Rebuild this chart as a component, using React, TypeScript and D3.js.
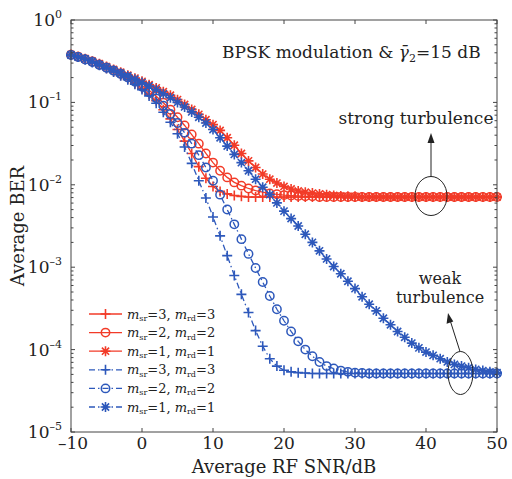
import React from 'react'
import * as d3 from 'd3'

// average RF SNR (dB), one marker per dB
const snrDb = [
  -10, -9, -8, -7, -6, -5, -4, -3, -2, -1,
  0, 1, 2, 3, 4, 5, 6, 7, 8, 9,
  10, 11, 12, 13, 14, 15, 16, 17, 18, 19,
  20, 21, 22, 23, 24, 25, 26, 27, 28, 29,
  30, 31, 32, 33, 34, 35, 36, 37, 38, 39,
  40, 41, 42, 43, 44, 45, 46, 47, 48, 49,
  50,
]

// strong turbulence (red)
const strongM3 = [
  0.380, 0.359, 0.335, 0.309, 0.285, 0.260, 0.237, 0.214, 0.193, 0.170,
  0.148, 0.126, 0.105, 0.0813, 0.0631, 0.0468, 0.0339, 0.0240, 0.0166, 0.0120,
  0.00955, 0.00832, 0.00776, 0.00741, 0.00724, 0.0071, 0.0071, 0.0071, 0.0071, 0.0071,
  0.0071, 0.0071, 0.0071, 0.0071, 0.0071, 0.0071, 0.0071, 0.0071, 0.0071, 0.0071,
  0.0071, 0.0071, 0.0071, 0.0071, 0.0071, 0.0071, 0.0071, 0.0071, 0.0071, 0.0071,
  0.0071, 0.0071, 0.0071, 0.0071, 0.0071, 0.0071, 0.0071, 0.0071, 0.0071, 0.0071,
  0.0071,
]
const strongM2 = [
  0.380, 0.359, 0.335, 0.313, 0.288, 0.266, 0.245, 0.224, 0.204, 0.182,
  0.160, 0.140, 0.119, 0.0989, 0.0813, 0.0661, 0.0525, 0.0407, 0.0316, 0.0240,
  0.0186, 0.0148, 0.0123, 0.0107, 0.00977, 0.00902, 0.00851, 0.00813, 0.00785, 0.00767,
  0.00750, 0.00741, 0.00733, 0.00724, 0.00724, 0.0071, 0.0071, 0.0071, 0.0071, 0.0071,
  0.0071, 0.0071, 0.0071, 0.0071, 0.0071, 0.0071, 0.0071, 0.0071, 0.0071, 0.0071,
  0.0071, 0.0071, 0.0071, 0.0071, 0.0071, 0.0071, 0.0071, 0.0071, 0.0071, 0.0071,
  0.0071,
]
const strongM1 = [
  0.380, 0.359, 0.339, 0.316, 0.295, 0.272, 0.251, 0.232, 0.214, 0.197,
  0.180, 0.164, 0.150, 0.135, 0.122, 0.108, 0.0944, 0.0822, 0.0716, 0.0617,
  0.0537, 0.0457, 0.0372, 0.0302, 0.0240, 0.0195, 0.0162, 0.0135, 0.0117, 0.0105,
  0.00955, 0.00891, 0.00841, 0.00813, 0.00794, 0.00776, 0.00759, 0.00741, 0.00733, 0.00724,
  0.00724, 0.0071, 0.0071, 0.0071, 0.0071, 0.0071, 0.0071, 0.0071, 0.0071, 0.0071,
  0.0071, 0.0071, 0.0071, 0.0071, 0.0071, 0.0071, 0.0071, 0.0071, 0.0071, 0.0071,
  0.0071,
]

// weak turbulence (blue)
const weakM3 = [
  0.376, 0.355, 0.331, 0.305, 0.282, 0.257, 0.234, 0.211, 0.188, 0.166,
  0.143, 0.120, 0.0977, 0.0759, 0.0575, 0.0417, 0.0288, 0.0182, 0.0112, 0.00692,
  0.00407, 0.00240, 0.00138, 7.94e-4, 4.68e-4, 2.82e-4, 1.70e-4, 1.10e-4, 7.76e-5, 6.31e-5,
  5.62e-5, 5.37e-5, 5.25e-5, 5.19e-5, 5.13e-5, 5.13e-5, 5.13e-5, 5.13e-5, 5.13e-5, 5.13e-5,
  5.13e-5, 5.13e-5, 5.13e-5, 5.13e-5, 5.13e-5, 5.13e-5, 5.13e-5, 5.13e-5, 5.13e-5, 5.13e-5,
  5.13e-5, 5.13e-5, 5.13e-5, 5.13e-5, 5.13e-5, 5.13e-5, 5.13e-5, 5.13e-5, 5.13e-5, 5.13e-5,
  5.13e-5,
]
const weakM2 = [
  0.376, 0.355, 0.331, 0.309, 0.285, 0.263, 0.243, 0.221, 0.200, 0.178,
  0.155, 0.133, 0.112, 0.0912, 0.0724, 0.0562, 0.0427, 0.0316, 0.0229, 0.0162,
  0.0112, 0.00759, 0.00501, 0.00331, 0.00219, 0.00145, 9.77e-4, 6.61e-4, 4.47e-4, 3.09e-4,
  2.24e-4, 1.66e-4, 1.26e-4, 1.00e-4, 8.32e-5, 7.08e-5, 6.31e-5, 5.89e-5, 5.56e-5, 5.37e-5,
  5.25e-5, 5.19e-5, 5.13e-5, 5.13e-5, 5.13e-5, 5.13e-5, 5.13e-5, 5.13e-5, 5.13e-5, 5.13e-5,
  5.13e-5, 5.13e-5, 5.13e-5, 5.13e-5, 5.13e-5, 5.13e-5, 5.13e-5, 5.13e-5, 5.13e-5, 5.13e-5,
  5.13e-5,
]
const weakM1 = [
  0.376, 0.355, 0.335, 0.313, 0.288, 0.266, 0.245, 0.226, 0.209, 0.191,
  0.174, 0.158, 0.143, 0.127, 0.114, 0.100, 0.0881, 0.0767, 0.0661, 0.0562,
  0.0468, 0.0372, 0.0295, 0.0234, 0.0186, 0.0148, 0.0117, 0.00933, 0.00759, 0.00603,
  0.00479, 0.00389, 0.00316, 0.00251, 0.00200, 0.00158, 0.00126, 0.00102, 8.32e-4, 6.76e-4,
  5.50e-4, 4.37e-4, 3.55e-4, 2.95e-4, 2.40e-4, 2.00e-4, 1.66e-4, 1.41e-4, 1.20e-4, 1.05e-4,
  9.33e-5, 8.51e-5, 7.76e-5, 7.08e-5, 6.61e-5, 6.31e-5, 6.03e-5, 5.75e-5, 5.56e-5, 5.37e-5,
  5.25e-5,
]

const legendM = [3, 2, 1, 3, 2, 1]

const RED = '#f23b28'
const BLUE = '#2d58bb'
const FONT = 'DejaVu Serif'

const W = 512
const H = 479
const L = 71, R = 497, T = 20, B = 432

const series = [
  { values: strongM3, color: RED, marker: 'plus', dash: null },
  { values: strongM2, color: RED, marker: 'circle', dash: null },
  { values: strongM1, color: RED, marker: 'star', dash: null },
  { values: weakM3, color: BLUE, marker: 'plus', dash: '6,3,1.5,3' },
  { values: weakM2, color: BLUE, marker: 'circle', dash: '6,3,1.5,3' },
  { values: weakM1, color: BLUE, marker: 'star', dash: '6,3,1.5,3' },
]

function Marker({ type, x, y, color }: { type: string; x: number; y: number; color: string }) {
  const s = 5
  if (type === 'circle') {
    return <circle cx={x} cy={y} r={4.2} fill="none" stroke={color} strokeWidth={1.5} />
  }
  let d = `M${x - s},${y}H${x + s}M${x},${y - s}V${y + s}`
  if (type === 'star') {
    const k = s * 0.72
    d += `M${x - k},${y - k}L${x + k},${y + k}M${x - k},${y + k}L${x + k},${y - k}`
  }
  return <path d={d} stroke={color} strokeWidth={1.6} fill="none" />
}

export default function App() {
  const x = d3.scaleLinear().domain([-10, 50]).range([L, R])
  const y = d3.scaleLog().domain([1e-5, 1]).range([B, T])

  const line = d3.line<number>()
    .x((_, i) => x(snrDb[i]))
    .y((d) => y(d))

  const xTicks = x.ticks(6)
  const yAll = y.ticks()
  const yMajor = yAll.filter((v) => Math.abs(Math.log10(v) - Math.round(Math.log10(v))) < 1e-6)
  const yMinor = yAll.filter((v) => !yMajor.includes(v))

  const legendY0 = 314
  const legendStep = 18.6

  return (
    <svg width={W} height={H} style={{ position: 'absolute', left: 0, top: 0, background: '#fff' }}
      fontFamily={FONT}>
      <rect x={0} y={0} width={W} height={H} fill="#fff" />

      {/* curves: red first, blue on top */}
      {series.map((s, si) => (
        <g key={si}>
          <path d={line(s.values) || ''} fill="none" stroke={s.color} strokeWidth={1.3}
            strokeDasharray={s.dash || undefined} />
          {s.values.map((v, i) => (
            <Marker key={i} type={s.marker} x={x(snrDb[i])} y={y(v)} color={s.color} />
          ))}
        </g>
      ))}

      {/* frame and ticks */}
      <rect x={L} y={T} width={R - L} height={B - T} fill="none" stroke="#444" strokeWidth={1} />
      {xTicks.map((t) => (
        <g key={t}>
          <line x1={x(t)} x2={x(t)} y1={B} y2={B - 4} stroke="#444" />
          <line x1={x(t)} x2={x(t)} y1={T} y2={T + 4} stroke="#444" />
          <text x={x(t) + (t < 0 ? 2 : 0)} y={449} textAnchor="middle" fontSize={17} fill="#222">
            {t < 0 ? '\u2013' + Math.abs(t) : String(t)}
          </text>
        </g>
      ))}
      {yMajor.map((t) => (
        <g key={t}>
          <line x1={L} x2={L + 4} y1={y(t)} y2={y(t)} stroke="#444" />
          <line x1={R} x2={R - 4} y1={y(t)} y2={y(t)} stroke="#444" />
          <text x={62} y={y(t) + 6} textAnchor="end" fontSize={17} fill="#222">
            10<tspan dy={-8} fontSize={11}>{t === 1 ? '0' : '\u2013' + Math.abs(Math.round(Math.log10(t)))}</tspan>
          </text>
        </g>
      ))}
      {yMinor.map((t, i) => (
        <g key={i}>
          <line x1={L} x2={L + 2.5} y1={y(t)} y2={y(t)} stroke="#444" />
          <line x1={R} x2={R - 2.5} y1={y(t)} y2={y(t)} stroke="#444" />
        </g>
      ))}

      {/* axis titles */}
      <text x={(L + R) / 2} y={473} textAnchor="middle" fontSize={18} fill="#222">Average RF SNR/dB</text>
      <text transform={`translate(24,${(T + B) / 2}) rotate(-90)`} textAnchor="middle" fontSize={18} fill="#222">Average BER</text>

      {/* annotations */}
      <text x={222} y={58} fontSize={17} fill="#222">
        BPSK modulation &amp; <tspan fontStyle="italic">{'\u03B3\u0304'}</tspan>
        <tspan fontSize={11} dy={4}>2</tspan><tspan dy={-4}>=15 dB</tspan>
      </text>
      <text x={416} y={124} textAnchor="middle" fontSize={17} fill="#222">strong turbulence</text>
      <ellipse cx={431} cy={196} rx={16} ry={19.5} fill="none" stroke="#222" strokeWidth={1} />
      <line x1={431} y1={176.5} x2={431} y2={140} stroke="#222" strokeWidth={1} />
      <path d="M431,133L427.5,143L434.5,143Z" fill="#222" />

      <text x={440} y={284} textAnchor="middle" fontSize={16} fill="#222">weak</text>
      <text x={440} y={303} textAnchor="middle" fontSize={16} fill="#222">turbulence</text>
      <ellipse cx={460.5} cy={373} rx={12.5} ry={21.5} fill="none" stroke="#222" strokeWidth={1} />
      <line x1={460} y1={351.5} x2={450} y2={320} stroke="#222" strokeWidth={1} />
      <path d="M448,313L446.6,323.7L453.3,321.6Z" fill="#222" />

      {/* legend */}
      {series.map((s, i) => {
        const ly = legendY0 + i * legendStep
        return (
          <g key={i}>
            <line x1={89} x2={122} y1={ly} y2={ly} stroke={s.color} strokeWidth={1.3}
              strokeDasharray={s.dash || undefined} />
            <Marker type={s.marker} x={105.5} y={ly} color={s.color} />
            <text x={127} y={ly + 4.5} fontSize={13} fill="#222">
              <tspan fontStyle="italic">m</tspan>
              <tspan fontSize={8} dy={2.5}>sr</tspan>
              <tspan dy={-2.5}>={legendM[i]}, </tspan>
              <tspan fontStyle="italic">m</tspan>
              <tspan fontSize={8} dy={2.5}>rd</tspan>
              <tspan dy={-2.5}>={legendM[i]}</tspan>
            </text>
          </g>
        )
      })}
    </svg>
  )
}
